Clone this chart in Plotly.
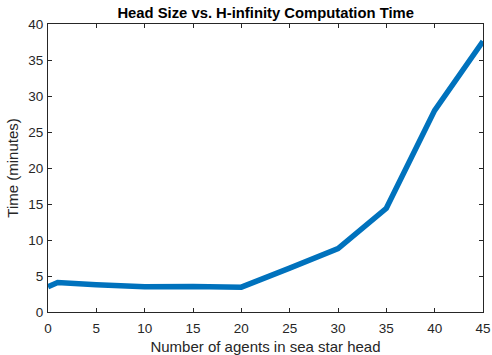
import plotly.graph_objects as go

agents = [0, 1, 5, 10, 15, 20, 25, 30, 35, 40, 45]
minutes = [3.5, 4.1, 3.8, 3.5, 3.55, 3.45, 6.1, 8.8, 14.4, 28.0, 37.6]
x_ticks = [0, 5, 10, 15, 20, 25, 30, 35, 40, 45]
y_ticks = [0, 5, 10, 15, 20, 25, 30, 35, 40]

axis_col = "#262626"
font_family = "Liberation Sans, Arial, Helvetica, sans-serif"

fig = go.Figure()
fig.add_trace(go.Scatter(x=agents, y=minutes, mode="lines",
                         line=dict(color="#0072BD", width=5.5),
                         showlegend=False))

common = dict(showgrid=False, zeroline=False, showline=True, linecolor=axis_col,
              linewidth=1, mirror="ticks", ticks="inside", ticklen=4,
              tickcolor=axis_col, tickwidth=1,
              tickfont=dict(family=font_family, size=13.5, color=axis_col))

fig.update_xaxes(range=[0, 45], tickvals=x_ticks, ticklabelstandoff=4,
                 automargin=False,
                 title=dict(text="Number of agents in sea star head",
                            font=dict(family=font_family, size=15, color=axis_col)),
                 **common)
fig.update_yaxes(range=[0, 40], tickvals=y_ticks, ticklabelstandoff=1,
                 automargin=True,
                 title=dict(text="Time (minutes)",
                            font=dict(family=font_family, size=15, color=axis_col),
                            standoff=6),
                 **common)

fig.update_layout(
    width=492, height=355,
    margin=dict(l=47.5, r=8.5, t=24, b=42.5),
    paper_bgcolor="white", plot_bgcolor="white",
    title=dict(text="<b>Head Size vs. H-infinity Computation Time</b>",
               x=0.54, xanchor="center", y=0.965, yanchor="middle",
               font=dict(family=font_family, size=14.8, color="black")),
)

fig.write_html("out.html")
